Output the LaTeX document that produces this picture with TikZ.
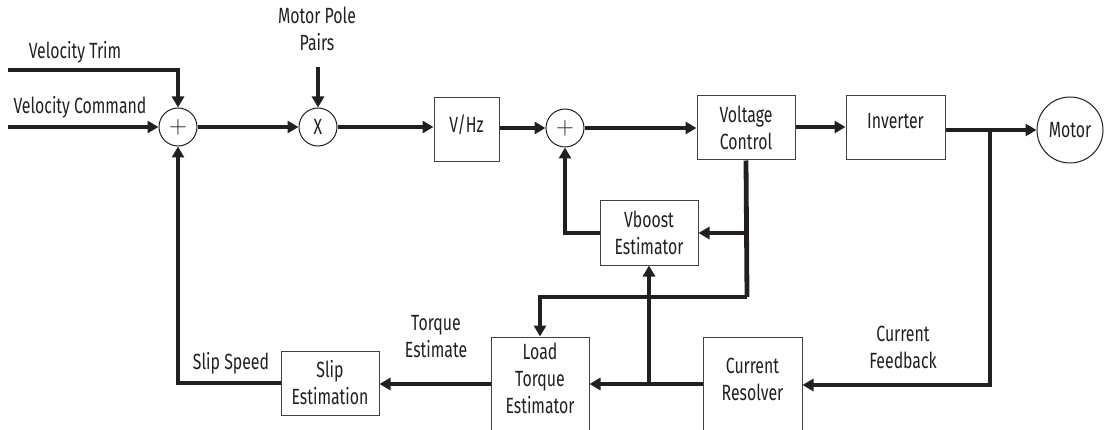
\documentclass[tikz,border=0pt]{standalone}
\usepackage{fontspec}
\setmainfont[FakeStretch=0.72]{Fira Sans}
\usetikzlibrary{arrows.meta}
\definecolor{ink}{HTML}{231F20}
\begin{document}
\begin{tikzpicture}[x=1pt,y=-1pt,
  font=\fontsize{22}{27}\selectfont, text=ink,
  flow/.style={line width=4.8pt, draw=ink},
  arr/.style={flow, -{Triangle[length=11pt,width=12pt]}},
  blk/.style={draw=ink!85, line width=1pt, fill=white, minimum width=98pt, minimum height=64pt, inner sep=0pt, align=center},
  sumc/.style={circle, draw=ink, line width=1pt, fill=white, minimum size=38pt, inner sep=0pt},
  plus/.style={sumc, font=\fontsize{24}{24}\selectfont},
  lbl/.style={align=center, inner sep=0pt}]
\useasboundingbox (0,0) rectangle (1110,430);

% blocks
\node[plus] (s1) at (178,127) {$+$};
\node[sumc] (m1) at (318,127) {X};
\node[blk, minimum width=65pt] (vhz) at (466.5,130) {};
\node[lbl] (vhzt) at (466.5,125) {V/Hz};
\node[plus] (s2) at (565,128) {$+$};
\node[blk] (vc) at (746,128) {Voltage\\Control};
\node[blk, minimum width=99pt] (inv) at (895.5,128) {};
\node[lbl] (invt) at (895.5,121) {Inverter};
\node[sumc, minimum size=66pt] (motor) at (1070,130) {Motor};
\node[blk] (vb) at (649,233) {Vboost\\Estimator};
\node[blk, minimum height=96pt] (lt) at (540,385) {};
\node[lbl] (ltt) at (540,378) {Load\\Torque\\Estimator};
\node[blk, minimum width=99pt, minimum height=96pt] (cr) at (752.5,385) {};
\node[lbl] (crt) at (752.5,379) {Current\\Resolver};
\node[blk] (se) at (330,383) {Slip\\Estimation};

% labels
\node[lbl] (lvt) at (75,52) {Velocity Trim};
\node[lbl] (lvc) at (80,107) {Velocity Command};
\node[lbl] (lmp) at (317,29) {Motor Pole\\Pairs};
\node[lbl] (lss) at (231,363) {Slip Speed};
\node[lbl] (lte) at (436,337) {Torque\\Estimate};
\node[lbl] (lcf) at (903,347) {Current\\Feedback};

% free ends / junctions
\coordinate (vt) at (8,70);
\coordinate (vcmd) at (8,127);
\coordinate (mp) at (318,67);
\coordinate (j1) at (990,130);
\coordinate (j2) at (747,297);

% connectors
\draw[arr] (vt) -| (s1.north);
\draw[arr] (vcmd) -- (s1.west);
\draw[arr] (s1.east) -- (m1.west);
\draw[arr] (mp) -- (m1.north);
\draw[arr] (m1.east) -- (vhz.west |- m1.east);
\draw[arr] (vhz.east |- s2.west) -- (s2.west);
\draw[arr] (s2.east) -- (vc.west |- s2.east);
\draw[arr] (vc.east |- 0,127) -- (inv.west |- 0,127);
\draw[arr] (inv.east |- motor.west) -- (motor.west);
\draw[arr] (j1) |- (cr.east);
\draw[flow] (vc.south) -- (j2);
\draw[arr] (j2) -| (lt.north);
\draw[arr] (vc.south |- vb.east) -- (vb.east);
\draw[arr] (vb.west) -| (s2.south);
\draw[arr] (cr.west |- 0,384) -- (lt.east |- 0,384);
\draw[arr] (vb.south |- 0,384) -- (vb.south);
\draw[arr] (lt.west |- 0,384) -- (se.east |- 0,384);
\draw[arr] (se.west) -| (s1.south);
\end{tikzpicture}
\end{document}
